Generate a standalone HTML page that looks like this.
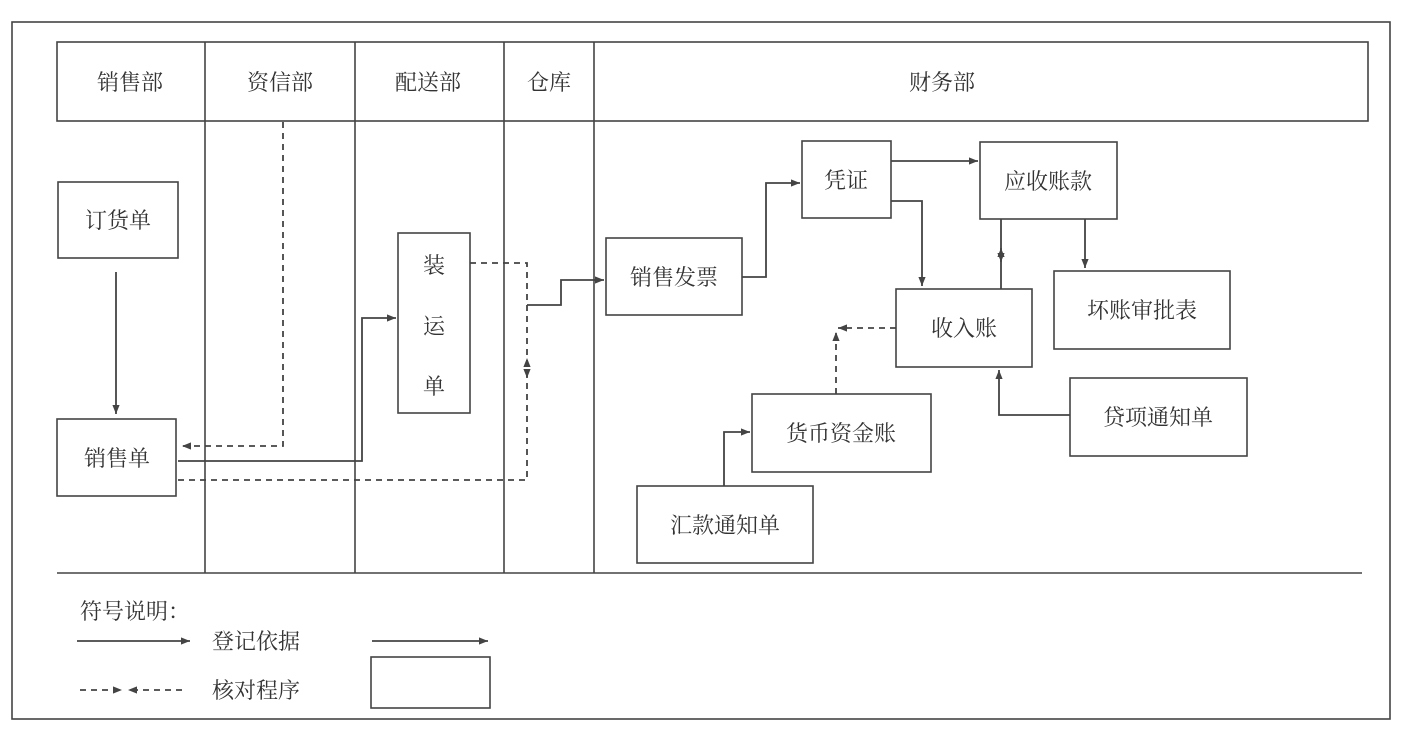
<!DOCTYPE html>
<html><head><meta charset="utf-8"><style>
html,body{margin:0;padding:0;background:#fff;}
svg{display:block;}
text{font-family:"Liberation Serif","Noto Serif CJK SC",serif;font-size:22px;fill:#333;}
</style></head><body>
<svg width="1410" height="745" viewBox="0 0 1410 745" xmlns="http://www.w3.org/2000/svg">
<defs>
<marker id="a" viewBox="0 0 10 10" refX="10" refY="5" markerWidth="20" markerHeight="9" markerUnits="userSpaceOnUse" orient="auto"><path d="M0,1 L10,5 L0,9 z" fill="#444"/></marker>
</defs>
<g fill="none" stroke="#444" stroke-width="1.6">
<rect x="12" y="22" width="1378" height="697"/>
<rect x="57" y="42" width="1311" height="79"/>
<line x1="205" y1="42" x2="205" y2="573"/>
<line x1="355" y1="42" x2="355" y2="573"/>
<line x1="504" y1="42" x2="504" y2="573"/>
<line x1="594" y1="42" x2="594" y2="573"/>
<line x1="57" y1="573" x2="1362" y2="573"/>
<rect x="58" y="182" width="120" height="76"/>
<rect x="57" y="419" width="119" height="77"/>
<rect x="398" y="233" width="72" height="180"/>
<rect x="606" y="238" width="136" height="77"/>
<rect x="802" y="141" width="89" height="77"/>
<rect x="980" y="142" width="137" height="77"/>
<rect x="1054" y="271" width="176" height="78"/>
<rect x="896" y="289" width="136" height="78"/>
<rect x="1070" y="378" width="177" height="78"/>
<rect x="752" y="394" width="179" height="78"/>
<rect x="637" y="486" width="176" height="77"/>
<rect x="371" y="657" width="119" height="51"/>
</g>
<g fill="none" stroke="#444" stroke-width="1.8">
<path d="M116,272 V414" marker-end="url(#a)"/>
<path d="M178,461 H362 V318 H396" marker-end="url(#a)"/>
<path d="M527,305 H561 V280 H604" marker-end="url(#a)"/>
<path d="M742,277 H766 V183 H800" marker-end="url(#a)"/>
<path d="M891,161 H978" marker-end="url(#a)"/>
<path d="M891,201 H922 V286" marker-end="url(#a)"/>
<path d="M1001,219 V262" marker-end="url(#a)"/>
<path d="M1001,289 V248" marker-end="url(#a)"/>
<path d="M1085,219 V268" marker-end="url(#a)"/>
<path d="M724,486 V432 H750" marker-end="url(#a)"/>
<path d="M1070,415 H999 V370" marker-end="url(#a)"/>
<path d="M77,641 H190" marker-end="url(#a)"/>
<path d="M372,641 H488" marker-end="url(#a)"/>
</g>
<g fill="none" stroke="#444" stroke-width="1.8" stroke-dasharray="6,5">
<path d="M283,122 V446 H182" marker-end="url(#a)"/>
<path d="M178,480 H527 V358" marker-end="url(#a)"/>
<path d="M470,263 H527 V378" marker-end="url(#a)"/>
<path d="M896,328 H838" marker-end="url(#a)"/>
<path d="M836,394 V332" marker-end="url(#a)"/>
<path d="M80,690 H122" marker-end="url(#a)"/>
<path d="M182,690 H128" marker-end="url(#a)"/>
</g>
<g text-anchor="middle">
<text x="130" y="90">销售部</text>
<text x="280" y="90">资信部</text>
<text x="428" y="90">配送部</text>
<text x="549" y="90">仓库</text>
<text x="942" y="90">财务部</text>
<text x="118" y="228">订货单</text>
<text x="117" y="466">销售单</text>
<text x="434" y="273">装</text>
<text x="434" y="334">运</text>
<text x="434" y="394">单</text>
<text x="674" y="285">销售发票</text>
<text x="846" y="188">凭证</text>
<text x="1048" y="189">应收账款</text>
<text x="1142" y="318">坏账审批表</text>
<text x="964" y="336">收入账</text>
<text x="1158" y="425">贷项通知单</text>
<text x="841" y="441">货币资金账</text>
<text x="725" y="533">汇款通知单</text>
</g>
<text x="80" y="619">符号说明：</text>
<text x="212" y="649">登记依据</text>
<text x="212" y="698">核对程序</text>
</svg>
</body></html>
